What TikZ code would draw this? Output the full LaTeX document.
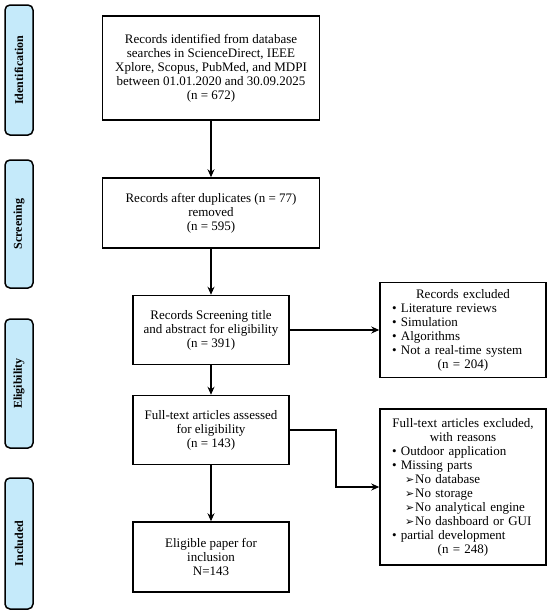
\documentclass[tikz,border=0pt]{standalone}
\usepackage{fontspec}
\setmainfont{Liberation Serif}
\newfontfamily\dejavu{DejaVu Sans}
\usetikzlibrary{arrows.meta}
\definecolor{sideblue}{RGB}{197,234,250}
\newcommand{\bul}{\textbullet\ }
\newcommand{\subarr}{{\dejavu\fontsize{11}{12}\selectfont ➢}\hspace{1pt}}
\begin{document}
\begin{tikzpicture}[x=1pt,y=-1pt,
  box/.style={draw, line width=1.5pt, align=center, inner sep=2pt,
    font=\fontsize{13}{14}\selectfont},
  side/.style={draw, line width=1.5pt, rounded corners=5pt, fill=sideblue,
    rotate=90, minimum height=28pt, inner sep=0pt,
    font=\bfseries\fontsize{12}{13}\selectfont},
  arr/.style={-{Stealth[length=8pt,width=7pt]}, line width=1.6pt}]
\useasboundingbox (0,0) rectangle (550,614);
% side labels
\node[side, minimum width=130pt] (s1) at (19,70) {Identification};
\node[side, minimum width=128pt] (s2) at (19,224) {Screening};
\node[side, minimum width=129pt] (s3) at (19,383.5) {Eligibility};
\node[side, minimum width=131pt] (s4) at (19,543.5) {Included};
% main boxes
\node[box, minimum width=217pt, minimum height=104pt] (b1) at (211,68)
  {Records identified from database\\ searches in ScienceDirect, IEEE\\
   Xplore, Scopus, PubMed, and MDPI\\ between 01.01.2020 and 30.09.2025\\ (n = 672)};
\node[box, minimum width=217pt, minimum height=70pt] (b2) at (211,213)
  {Records after duplicates (n = 77)\\ removed\\ (n = 595)};
\node[box, minimum width=156pt, minimum height=69pt] (b3) at (211,330)
  {Records Screening title\\ and abstract for eligibility\\ (n = 391)};
\node[box, minimum width=156pt, minimum height=69pt] (b4) at (211,430)
  {Full-text articles assessed\\ for eligibility\\ (n = 143)};
\node[box, minimum width=156pt, minimum height=70pt] (b5) at (211,557)
  {Eligible paper for\\ inclusion\\ N=143};
% exclusion boxes
\node[box, minimum width=166pt, minimum height=95pt, text width=158pt, inner sep=4pt] (e1) at (463,330)
  {Records excluded\\
   \makebox[158pt][l]{\hspace{8pt}\bul Literature reviews}\\
   \makebox[158pt][l]{\hspace{8pt}\bul Simulation}\\
   \makebox[158pt][l]{\hspace{8pt}\bul Algorithms}\\
   \makebox[158pt][l]{\hspace{8pt}\bul Not a real-time system}\\
   (n = 204)};
\node[box, minimum width=166pt, minimum height=156pt, text width=158pt, inner sep=4pt] (e2) at (463,487)
  {Full-text articles excluded,\\ with reasons\\
   \makebox[158pt][l]{\hspace{8pt}\bul Outdoor application}\\
   \makebox[158pt][l]{\hspace{8pt}\bul Missing parts}\\
   \makebox[158pt][l]{\hspace{21pt}\subarr No database}\\
   \makebox[158pt][l]{\hspace{21pt}\subarr No storage}\\
   \makebox[158pt][l]{\hspace{21pt}\subarr No analytical engine}\\
   \makebox[158pt][l]{\hspace{21pt}\subarr No dashboard or GUI}\\
   \makebox[158pt][l]{\hspace{8pt}\bul partial development}\\
   (n = 248)};
% connectors
\draw[arr] (b1) -- (b2);
\draw[arr] (b2) -- (b3);
\draw[arr] (b3) -- (b4);
\draw[arr] (b4) -- (b5);
\draw[arr] (b3) -- (e1);
\coordinate (k) at (336,430);
\draw[arr] (b4.east) -- (k) |- (e2.west);
\end{tikzpicture}
\end{document}
